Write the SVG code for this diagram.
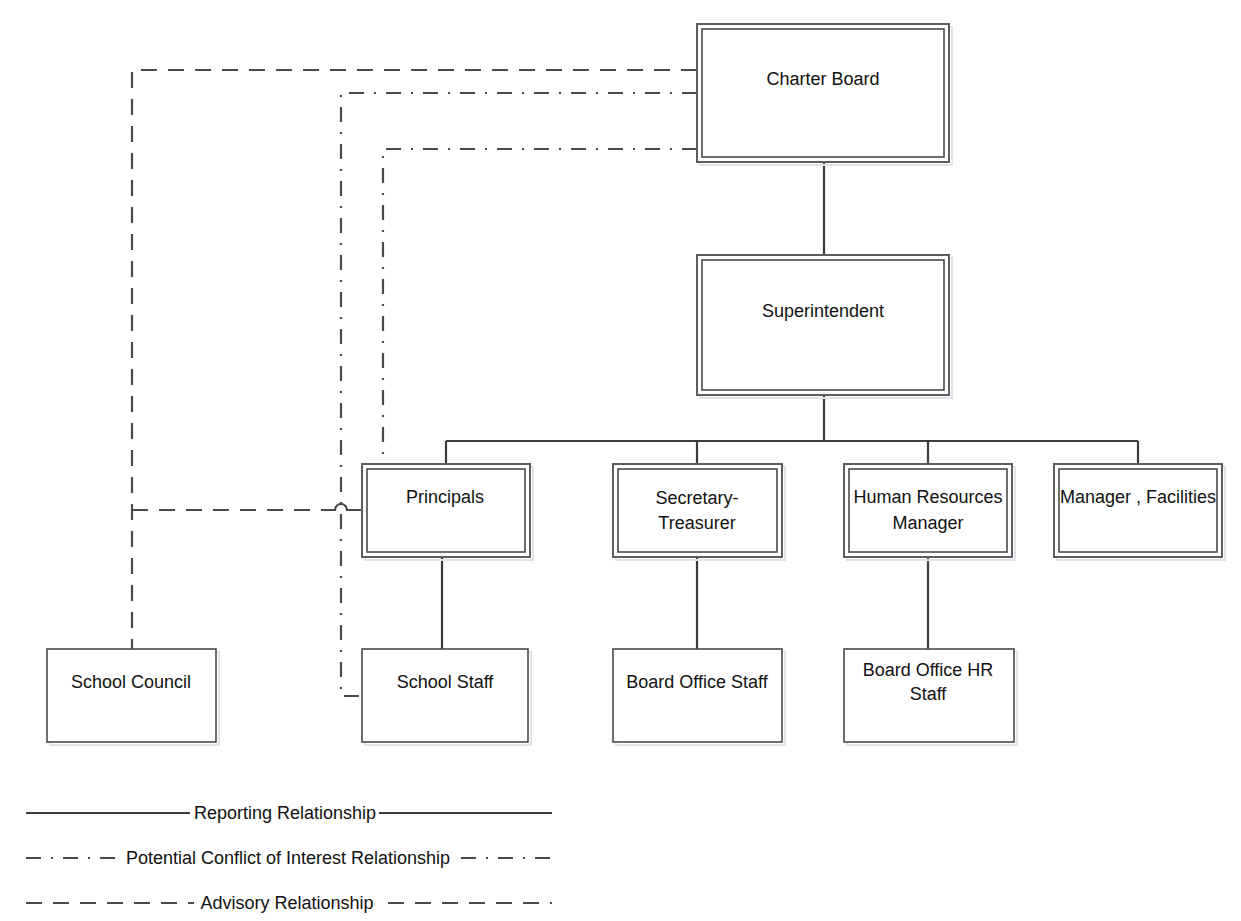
<svg xmlns="http://www.w3.org/2000/svg" width="1241" height="921" viewBox="0 0 1241 921">
<style>
  text { font-family: "Liberation Sans", Arial, sans-serif; font-size: 18px; fill: #111; text-anchor: middle; }
  .outer { fill: #fff; stroke: #5e5e5e; stroke-width: 2; }
  .inner { fill: none; stroke: #4a4a4a; stroke-width: 1.6; }
  .single { fill: #fff; stroke: #4a4a4a; stroke-width: 1.6; }
  .shadow { fill: none; stroke: #dfe4ea; stroke-width: 2; }
  .solid { fill: none; stroke: #3c3c3c; stroke-width: 2.2; }
  .hop { fill: none; stroke: #4a4a4a; stroke-width: 2.2; }
  .dashed { fill: none; stroke: #4a4a4a; stroke-width: 2.2; stroke-dasharray: 16 11; }
  .dashdot { fill: none; stroke: #4a4a4a; stroke-width: 2.2; stroke-dasharray: 15 10 2 10; }
</style>
<rect width="1241" height="921" fill="#fff"/>

<g id="connectors">
  <!-- reporting -->
  <path class="solid" d="M824,162 V255"/>
  <path class="solid" d="M824,395 V441"/>
  <path class="solid" d="M446,441 H1138"/>
  <path class="solid" d="M446,441 V464"/>
  <path class="solid" d="M697,441 V464"/>
  <path class="solid" d="M928,441 V464"/>
  <path class="solid" d="M1138,441 V464"/>
  <path class="solid" d="M442,557 V649"/>
  <path class="solid" d="M697,557 V649"/>
  <path class="solid" d="M928,557 V649"/>
  <!-- advisory -->
  <path class="dashed" d="M697,70 H132 V649"/>
  <path class="dashed" d="M132,510 H331"/>
  <path class="hop" d="M331,510 H335 A6,6 0 0 1 347,510 H362"/>
  <!-- potential conflict -->
  <path class="dashdot" d="M697,93 H341 V696 H362"/>
  <path class="dashdot" d="M697,149 H383 V464"/>
</g>

<g id="charter-board">
  <rect class="shadow" x="700" y="27" width="252" height="138"/>
  <rect class="outer" x="697" y="24" width="252" height="138"/>
  <rect class="inner" x="702" y="29" width="242" height="128"/>
  <text x="823" y="85">Charter Board</text>
</g>

<g id="superintendent">
  <rect class="shadow" x="700" y="258" width="252" height="140"/>
  <rect class="outer" x="697" y="255" width="252" height="140"/>
  <rect class="inner" x="702" y="260" width="242" height="130"/>
  <text x="823" y="317">Superintendent</text>
</g>

<g id="principals">
  <rect class="shadow" x="365" y="467" width="168" height="93"/>
  <rect class="outer" x="362" y="464" width="168" height="93"/>
  <rect class="inner" x="367" y="469" width="158" height="83"/>
  <text x="445" y="503">Principals</text>
</g>

<g id="secretary-treasurer">
  <rect class="shadow" x="616" y="467" width="169" height="93"/>
  <rect class="outer" x="613" y="464" width="169" height="93"/>
  <rect class="inner" x="618" y="469" width="159" height="83"/>
  <text x="697" y="504">Secretary-</text>
  <text x="697" y="529">Treasurer</text>
</g>

<g id="hr-manager">
  <rect class="shadow" x="847" y="467" width="168" height="93"/>
  <rect class="outer" x="844" y="464" width="168" height="93"/>
  <rect class="inner" x="849" y="469" width="158" height="83"/>
  <text x="928" y="503">Human Resources</text>
  <text x="928" y="529">Manager</text>
</g>

<g id="manager-facilities">
  <rect class="shadow" x="1057" y="467" width="168" height="93"/>
  <rect class="outer" x="1054" y="464" width="168" height="93"/>
  <rect class="inner" x="1059" y="469" width="158" height="83"/>
  <text x="1138" y="503">Manager , Facilities</text>
</g>

<g id="school-council">
  <rect class="shadow" x="50" y="652" width="169" height="93"/>
  <rect class="single" x="47" y="649" width="169" height="93"/>
  <text x="131" y="688">School Council</text>
</g>

<g id="school-staff">
  <rect class="shadow" x="365" y="652" width="166" height="93"/>
  <rect class="single" x="362" y="649" width="166" height="93"/>
  <text x="445" y="688">School Staff</text>
</g>

<g id="board-office-staff">
  <rect class="shadow" x="616" y="652" width="169" height="93"/>
  <rect class="single" x="613" y="649" width="169" height="93"/>
  <text x="697" y="688">Board Office Staff</text>
</g>

<g id="board-office-hr-staff">
  <rect class="shadow" x="847" y="652" width="170" height="93"/>
  <rect class="single" x="844" y="649" width="170" height="93"/>
  <text x="928" y="676">Board Office HR</text>
  <text x="928" y="700">Staff</text>
</g>

<g id="legend">
  <path class="solid" d="M26,813 H190 M379,813 H552"/>
  <text x="285" y="819">Reporting Relationship</text>
  <path class="dashdot" d="M26,858 H120 M461,858 H552"/>
  <text x="288" y="864">Potential Conflict of Interest Relationship</text>
  <path class="dashed" d="M26,903 H194 M388,903 H552"/>
  <text x="287" y="909">Advisory Relationship</text>
</g>
</svg>
